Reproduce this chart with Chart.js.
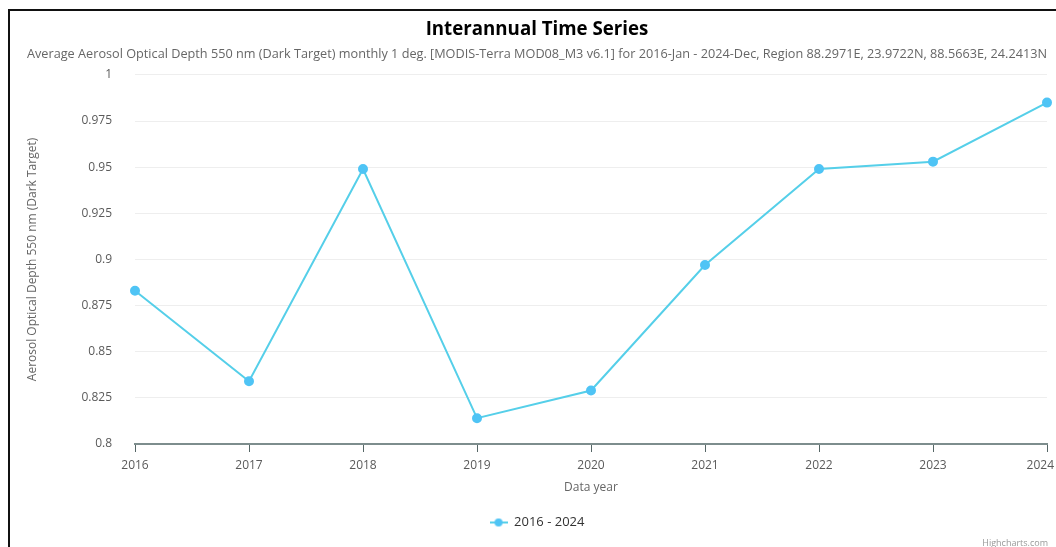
<!DOCTYPE html>
<html><head><meta charset="utf-8">
<script src="https://cdn.jsdelivr.net/npm/chart.js@4.4.1/dist/chart.umd.min.js"></script>
<style>
html,body{margin:0;padding:0;background:#fff;overflow:hidden}
#wrap{position:relative;width:1056px;height:547px;overflow:hidden}
#frame{position:absolute;left:8px;top:9px;width:1100px;height:600px;border-left:2px solid #111;border-top:2px solid #111;pointer-events:none}
#credit{position:absolute;right:8px;bottom:-2px;font:9px 'Open Sans',sans-serif;color:#999}
canvas{position:absolute;left:0;top:0}
</style></head><body>
<div id="wrap"><canvas id="c" width="1056" height="547"></canvas><div id="frame"></div><div id="credit">Highcharts.com</div></div>
<script>
const categories = ['2016','2017','2018','2019','2020','2021','2022','2023','2024'];
const seriesName = '2016 - 2024';
const aodValues = [0.883, 0.834, 0.949, 0.814, 0.829, 0.897, 0.949, 0.953, 0.985];
const yTicks = [0.8, 0.825, 0.85, 0.875, 0.9, 0.925, 0.95, 0.975, 1];
const titleText = 'Interannual Time Series';
const subtitleText = 'Average Aerosol Optical Depth 550 nm (Dark Target) monthly 1 deg. [MODIS-Terra MOD08_M3 v6.1] for 2016-Jan - 2024-Dec, Region 88.2971E, 23.9722N, 88.5663E, 24.2413N';
const yTitle = 'Aerosol Optical Depth 550 nm (Dark Target)';
const xTitle = 'Data year';

const FONT = "'Open Sans', sans-serif";
const lineColor = '#55cfe9';
const pointColor = '#4fc4f5';

// legend symbol: line with circle
const sym = document.createElement('canvas');
sym.width = 18; sym.height = 10;
(function(){
  const g = sym.getContext('2d');
  g.strokeStyle = lineColor; g.lineWidth = 2;
  g.beginPath(); g.moveTo(0,5); g.lineTo(18,5); g.stroke();
  g.fillStyle = pointColor; g.beginPath(); g.arc(9,5,4,0,Math.PI*2); g.fill();
})();

const lastLabelJustify = {
  id: 'lastLabelJustify',
  afterLayout(chart) {
    const sc = chart.scales.x;
    const items = sc.getLabelItems();
    const last = items[items.length - 1];
    if (last) {
      const ctx = chart.ctx;
      ctx.save(); ctx.font = '12px ' + FONT;
      const w = ctx.measureText(last.label).width;
      ctx.restore();
      const right = last.options.translation[0] + w / 2;
      if (right > chart.width - 2) {
        last.options.textAlign = 'right';
        last.options.translation[0] = chart.width - 2;
      }
    }
  }
};

new Chart(document.getElementById('c'), {
  type: 'line',
  data: {
    labels: categories,
    datasets: [{
      label: seriesName,
      data: aodValues,
      borderColor: lineColor,
      backgroundColor: pointColor,
      pointBackgroundColor: pointColor,
      pointBorderColor: pointColor,
      borderWidth: 2,
      pointRadius: 4,
      pointStyle: 'circle',
      tension: 0,
      fill: false
    }]
  },
  options: {
    responsive: false,
    devicePixelRatio: 1,
    animation: false,
    layout: { padding: { left: 27, right: 9, top: 0, bottom: 8 } },
    plugins: {
      title: { display: true, text: titleText, color: '#000',
        font: { family: FONT, size: 18.7, weight: 'bold' }, padding: { top: 18, bottom: 5 } },
      subtitle: { display: true, text: subtitleText, color: '#666',
        font: { family: FONT, size: 12.9 }, padding: { top: 1, bottom: 13 } },
      legend: { display: true, position: 'bottom',
        labels: { usePointStyle: true, pointStyle: sym, pointStyleWidth: 18, color: '#333',
          font: { family: FONT, size: 13 }, padding: 10,
          generateLabels(chart) {
            return chart.data.datasets.map((d, i) => ({
              text: d.label, pointStyle: sym, fillStyle: pointColor, strokeStyle: lineColor,
              lineWidth: 0, hidden: false, datasetIndex: i, fontColor: '#333'
            }));
          } } },
      tooltip: { enabled: false }
    },
    scales: {
      x: {
        type: 'category',
        offset: false,
        grid: { display: true, drawOnChartArea: false, drawTicks: true, tickLength: 8, color: '#556666', lineWidth: 1 },
        border: { display: true, color: '#7d8d8d', width: 2 },
        ticks: { color: '#5a5a5a', font: { family: FONT, size: 12 }, padding: 6, maxRotation: 0, autoSkip: false },
        title: { display: true, text: xTitle, color: '#666', font: { family: FONT, size: 12 }, padding: { top: 0, bottom: 11 } },
        afterFit(s) { s.height = 62; s.paddingLeft = 0; s.paddingRight = 0; }
      },
      y: {
        min: 0.8, max: 1,
        afterBuildTicks(s) { s.ticks = yTicks.map(v => ({ value: v })); },
        grid: { color: '#eeeeee', lineWidth: 1, drawTicks: false },
        border: { display: false },
        ticks: { color: '#5a5a5a', font: { family: FONT, size: 12 }, padding: 23,
          callback: v => String(Number(v.toFixed(3))) },
        title: { display: true, text: yTitle, color: '#666', font: { family: FONT, size: 12 }, padding: { top: -2, bottom: 0 } },
        afterFit(s) { s.width = 108; }
      }
    }
  },
  plugins: [lastLabelJustify]
});
</script>
</body></html>
